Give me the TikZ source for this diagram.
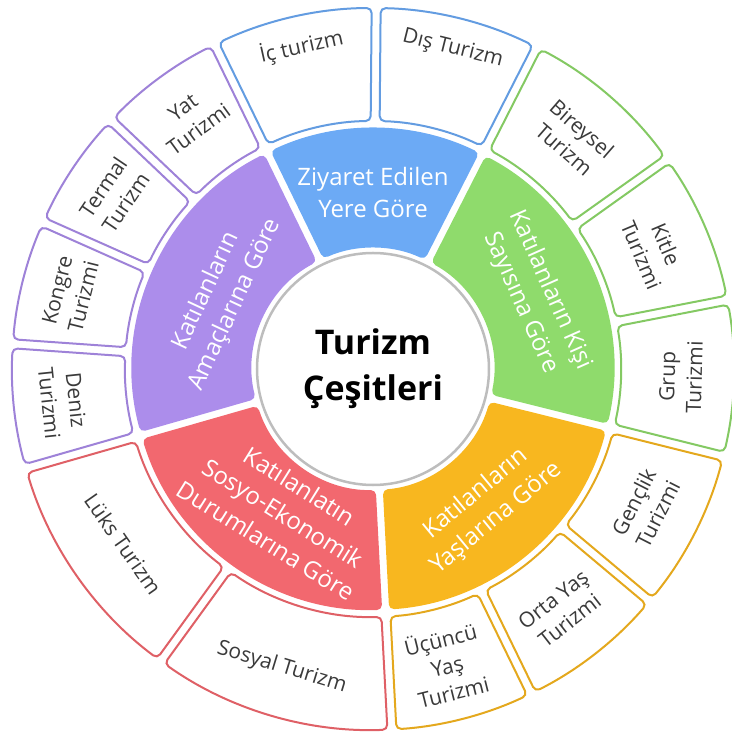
\documentclass[tikz,border=0pt]{standalone}
\usepackage{fontspec}
\setmainfont{Open Sans}
\definecolor{zblue}{HTML}{6CAAF5}
\definecolor{zgreen}{HTML}{8FDB6C}
\definecolor{zyellow}{HTML}{F8B71F}
\definecolor{zred}{HTML}{F2686F}
\definecolor{zpurple}{HTML}{AC8DEB}
\definecolor{hubgray}{HTML}{BDBDBD}
\definecolor{leafgray}{HTML}{3A3A3A}

% annular piece: style, start angle, end angle, inner r, outer r, half gap
\newcommand{\ringpart}[6]{%
  \path[#1] ({#2-asin(#6/#5)}:#5)
    arc[start angle={#2-asin(#6/#5)}, end angle={#3+asin(#6/#5)}, radius=#5]
    -- ({#3+asin(#6/#4)}:#4)
    arc[start angle={#3+asin(#6/#4)}, end angle={#2-asin(#6/#4)}, radius=#4] -- cycle;}

\begin{document}
\begin{tikzpicture}[x=1pt, y=1pt,
    hub/.style={circle, draw=hubgray, line width=2.5pt, fill=white,
        minimum size=232pt, inner sep=0pt, align=center,
        font=\bfseries\fontsize{34}{46}\selectfont},
    seg/.style={fill=#1, rounded corners=5pt},
    leaf/.style={draw=#1!92!black, line width=2pt, fill=white,
        rounded corners=5pt},
    segtext/.style={text=white, align=center,
        font=\fontsize{24}{32}\selectfont},
    leaftext/.style={text=leafgray, align=center,
        font=\fontsize{21}{27}\selectfont}]
    \useasboundingbox (-373,369) rectangle (358,-369);

    % inner ring
    \foreach \colr/\aS/\aE in {zblue/116/63, zgreen/63/-14, zyellow/-14/-87,
        zred/-87/-164, zpurple/-164/-244}
        \ringpart{seg=\colr}{\aS}{\aE}{121}{241}{3.5};

    % outer ring
    \foreach \colr/\aS/\aE in {zblue/116/89.5, zblue/89.5/63,
        zgreen/63/35.5, zgreen/35.5/11, zgreen/11/-14,
        zyellow/-14/-40, zyellow/-40/-64, zyellow/-64/-87,
        zred/-87/-126, zred/-126/-164,
        zpurple/-164/-184, zpurple/-184/-204, zpurple/-204/-223.5,
        zpurple/-223.5/-244}
        \ringpart{leaf=\colr}{\aS}{\aE}{248}{361}{4.5};

    \node[hub] (hub) at (0,0) {Turizm\\Çeşitleri};

    \foreach \nm/\ang/\rad/\rot/\txt in {
        ziyaret/90/176/0/{Ziyaret Edilen\\Yere Göre},
        kisi/24/178/-66/{Katılanların Kişi\\Sayısına Göre},
        yas/-50.5/178/39.5/{Katılanların\\Yaşlarına Göre},
        sosyo/-122/170/-32/{Katılanlatın\\Sosyo-Ekonomik\\Durumlarına Göre},
        amac/155/168/65/{Katılanların\\Amaçlarına Göre}}
        \node[segtext, rotate=\rot] (\nm) at (\ang:\rad) {\txt};

    \foreach \nm/\ang/\rad/\rot/\txt in {
        ic/102.5/330/12.5/{İç turizm},
        dis/76/330/-14/{Dış Turizm},
        bireysel/49/305/-41/{Bireysel\\Turizm},
        kitle/23/305/-67/{Kitle\\Turizmi},
        grup/-1.5/308/88.5/{Grup\\Turizmi},
        genclik/-27/306/63/{Gençlik\\Turizmi},
        orta/-52/306/38/{Orta Yaş\\Turizmi},
        ucuncu/-76/305/14/{Üçüncü\\Yaş\\Turizmi},
        sosyal/-107/312/-17/{Sosyal Turizm},
        luks/-145/305/-55/{Lüks Turizm},
        deniz/-174/312/-84/{Deniz\\Turizmi},
        kongre/166/312/76/{Kongre\\Turizmi},
        termal/146/312/56/{Termal\\Turizm},
        yat/126/310/36/{Yat\\Turizmi}}
        \node[leaftext, rotate=\rot] (\nm) at (\ang:\rad) {\txt};
\end{tikzpicture}
\end{document}
